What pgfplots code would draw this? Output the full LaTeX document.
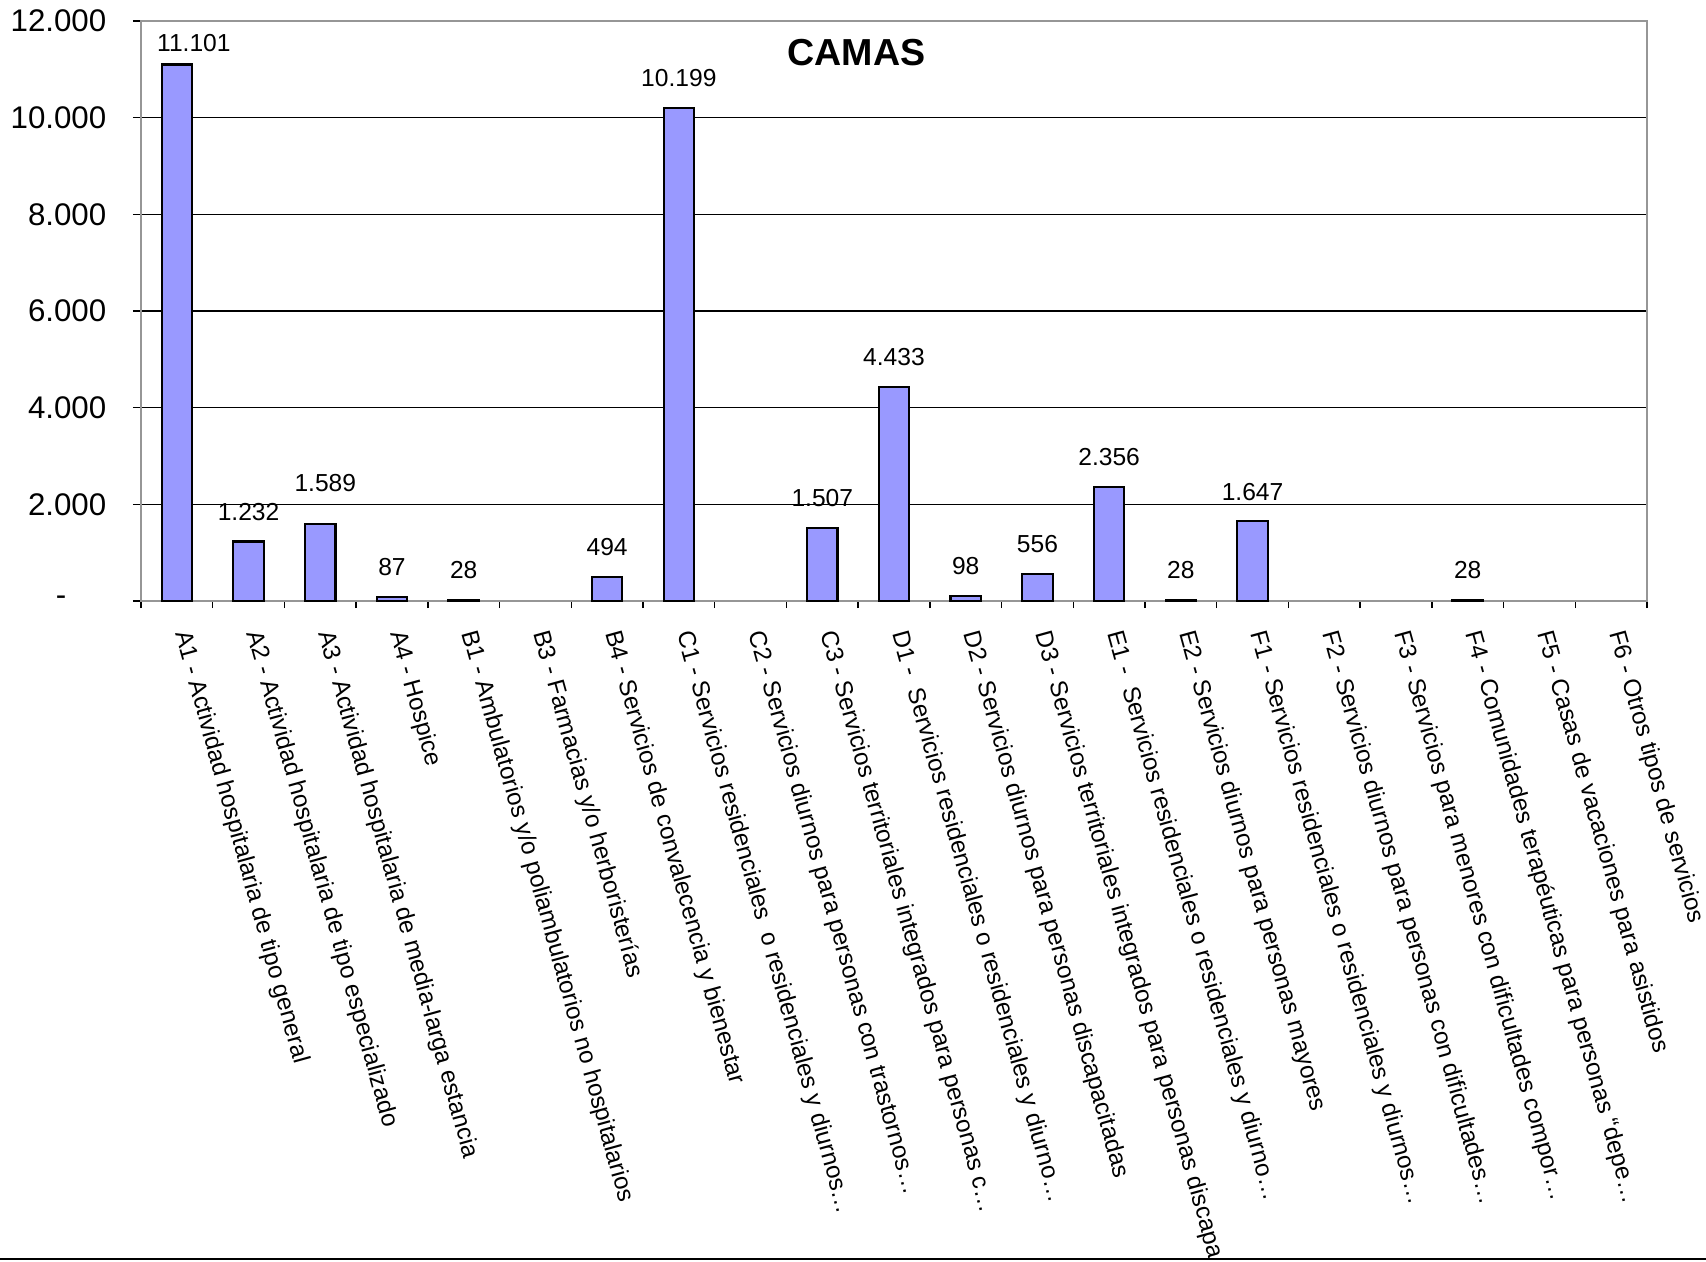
\documentclass[border=0pt]{standalone}
\usepackage{pgfplots}
\pgfplotsset{compat=1.18}
\usepackage{pgfplotstable}
\usepackage{fontspec}
\setmainfont{Liberation Sans}

\definecolor{barfill}{RGB}{153,153,255}
\definecolor{frame}{RGB}{150,150,150}

% value, label text, label shifts (cm)
\pgfplotstableread{
x y lab dx dy
0 11101 11.101 0.17 0.12
1 1232 1.232 0 0.20
2 1589 1.589 0.05 0.31
3 87 87 0 0.20
4 28 28 0 0.20
5 0 {} 0 0.20
6 494 494 0 0.20
7 10199 10.199 0 0.20
8 0 {} 0 0.20
9 1507 1.507 0 0.20
10 4433 4.433 0 0.20
11 98 98 0 0.20
12 556 556 0 0.20
13 2356 2.356 0 0.20
14 28 28 0 0.20
15 1647 1.647 0 0.20
16 0 {} 0 0.20
17 0 {} 0 0.20
18 28 28 0 0.20
19 0 {} 0 0.20
20 0 {} 0 0.20
}\camas

\begin{document}
\begin{tikzpicture}
\clip (-1.41,-6.60) rectangle (15.65,6.01);
\begin{axis}[
    width=15.06cm, height=5.80cm, scale only axis,
    ybar, bar width=0.305cm, bar shift=0pt,
    xmin=-0.5, xmax=20.5, ymin=0, ymax=12000,
    scaled y ticks=false,
    xtick={0,...,20},
    minor xtick={-0.5,0.5,...,20.5},
    xticklabels={
        {A1 - Actividad hospitalaria de tipo general},
        {A2 - Actividad hospitalaria de tipo especializado},
        {A3 - Actividad hospitalaria de media-larga estancia},
        {A4 - Hospice},
        {B1 - Ambulatorios y/o poliambulatorios no hospitalarios},
        {B3 - Farmacias y/o herboristerías},
        {B4 - Servicios de convalecencia y bienestar},
        {C1 - Servicios residenciales\ \ o residenciales y diurnos…},
        {C2 - Servicios diurnos para personas con trastornos…},
        {C3 - Servicios territoriales integrados para personas c…},
        {D1 -\ \ Servicios residenciales o residenciales y diurno…},
        {D2 - Servicios diurnos para personas discapacitadas},
        {D3 - Servicios territoriales integrados para personas discapa},
        {E1 -\ \ Servicios residenciales o residenciales y diurno…},
        {E2 - Servicios diurnos para personas mayores},
        {F1 - Servicios residenciales o residenciales y diurnos…},
        {F2 - Servicios diurnos para personas con dificultades…},
        {F3 - Servicios para menores con dificultades compor…},
        {F4 - Comunidades terapéuticas para personas “depe…},
        {F5 - Casas de vacaciones para asistidos},
        {F6 - Otros tipos de servicios}},
    ytick={0,2000,...,12000},
    yticklabels={{-\hspace*{0.40cm}},2.000,4.000,6.000,8.000,10.000,12.000},
    tick align=outside, tick pos=left,
    major tick length=0.08cm, minor tick length=0.07cm,
    major x tick style={draw=none},
    minor x tick style={black, line width=0.4pt},
    major y tick style={black, line width=0.4pt},
    ymajorgrids, major grid style={black, line width=0.35pt},
    axis line style={frame, line width=0.7pt},
    yticklabel style={font=\fontsize{8.9}{10}\selectfont, anchor=east, inner sep=0pt, xshift=-0.26cm},
    xticklabel style={font=\fontsize{6.9}{8}\selectfont, xshift=0.04cm, yshift=-0.22cm,
        rotate=-74.5, anchor=west, inner sep=0pt},
    nodes near coords,
    point meta=explicit symbolic,
    visualization depends on={\thisrow{dx} \as \dx},
    visualization depends on={\thisrow{dy} \as \dy},
    nodes near coords style={font=\fontsize{7}{8}\selectfont, black, anchor=south, inner sep=0pt,
        xshift=\dx cm, yshift=\dy cm},
]
\addplot[fill=barfill, draw=black, line width=0.6pt,
    y filter/.expression={y==0 ? nan : y}]
    table[x=x, y=y, meta=lab] {\camas};
\node[font=\bfseries\fontsize{10.7}{12}\selectfont] at (rel axis cs:0.475,0.945) {CAMAS};
\end{axis}
\draw[black, line width=0.4pt] (-1.41,-6.58) -- (15.65,-6.58);
\end{tikzpicture}
\end{document}
